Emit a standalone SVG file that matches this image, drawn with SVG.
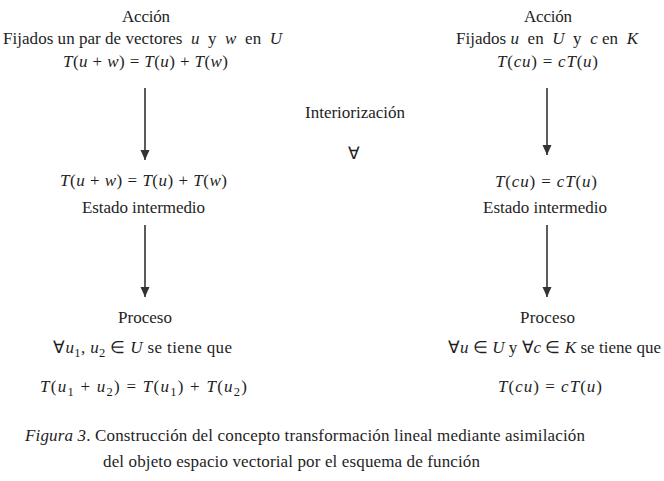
<svg xmlns="http://www.w3.org/2000/svg" width="664" height="481" viewBox="0 0 664 481">
<defs>
<style>
text{font-family:'Liberation Serif','Times New Roman',serif;font-size:17px;fill:#1e1e1e;white-space:pre;}
.i{font-style:italic;}
.sub{font-size:12.5px;}
.arrow{stroke:#333;stroke-width:1.6;fill:none;}
</style>
<marker id="ah" viewBox="0 0 10 10" refX="10" refY="5" markerWidth="10" markerHeight="10" markerUnits="userSpaceOnUse" orient="auto">
<path d="M0,0.5 L10,5 L0,9.5 Z" fill="#333"/>
</marker>
</defs>
<rect width="664" height="481" fill="#fff"/>

<g id="left-accion">
<text x="122" y="22" textLength="48" lengthAdjust="spacing">Acción</text>
<text x="3" y="44" textLength="279" lengthAdjust="spacing">Fijados un par de vectores  <tspan class="i">u</tspan>  y  <tspan class="i">w</tspan>  en  <tspan class="i">U</tspan></text>
<text x="63" y="67" textLength="165" lengthAdjust="spacing"><tspan class="i">T</tspan>(<tspan class="i">u</tspan> + <tspan class="i">w</tspan>) = <tspan class="i">T</tspan>(<tspan class="i">u</tspan>) + <tspan class="i">T</tspan>(<tspan class="i">w</tspan>)</text>
</g>

<g id="left-intermedio">
<text x="60" y="186" textLength="167" lengthAdjust="spacing"><tspan class="i">T</tspan>(<tspan class="i">u</tspan> + <tspan class="i">w</tspan>) = <tspan class="i">T</tspan>(<tspan class="i">u</tspan>) + <tspan class="i">T</tspan>(<tspan class="i">w</tspan>)</text>
<text x="82" y="213" textLength="123" lengthAdjust="spacing">Estado intermedio</text>
</g>

<g id="left-proceso">
<text x="118" y="323" textLength="54" lengthAdjust="spacing">Proceso</text>
<text x="53" y="353" textLength="179" lengthAdjust="spacing">∀<tspan class="i">u</tspan><tspan class="sub" dy="4">1</tspan><tspan dy="-4">, </tspan><tspan class="i">u</tspan><tspan class="sub" dy="4">2</tspan><tspan dy="-4"> ∈ </tspan><tspan class="i">U</tspan> se tiene que</text>
<text x="40" y="392" textLength="207" lengthAdjust="spacing"><tspan class="i">T</tspan>(<tspan class="i">u</tspan><tspan class="sub" dy="4">1</tspan><tspan dy="-4"> + </tspan><tspan class="i">u</tspan><tspan class="sub" dy="4">2</tspan><tspan dy="-4">) = </tspan><tspan class="i">T</tspan>(<tspan class="i">u</tspan><tspan class="sub" dy="4">1</tspan><tspan dy="-4">) + </tspan><tspan class="i">T</tspan>(<tspan class="i">u</tspan><tspan class="sub" dy="4">2</tspan><tspan dy="-4">)</tspan></text>
</g>

<g id="interiorizacion">
<text x="305" y="118" textLength="100" lengthAdjust="spacing">Interiorización</text>
<text x="348" y="159">∀</text>
</g>

<g id="right-accion">
<text x="524" y="22" textLength="48" lengthAdjust="spacing">Acción</text>
<text x="456" y="44" textLength="182" lengthAdjust="spacing">Fijados <tspan class="i">u</tspan>  en  <tspan class="i">U</tspan>  y  <tspan class="i">c</tspan> en  <tspan class="i">K</tspan></text>
<text x="497" y="67" textLength="101" lengthAdjust="spacing"><tspan class="i">T</tspan>(<tspan class="i">cu</tspan>) = <tspan class="i">cT</tspan>(<tspan class="i">u</tspan>)</text>
</g>

<g id="right-intermedio">
<text x="495" y="187" textLength="102" lengthAdjust="spacing"><tspan class="i">T</tspan>(<tspan class="i">cu</tspan>) = <tspan class="i">cT</tspan>(<tspan class="i">u</tspan>)</text>
<text x="483" y="213" textLength="124" lengthAdjust="spacing">Estado intermedio</text>
</g>

<g id="right-proceso">
<text x="520" y="323" textLength="55" lengthAdjust="spacing">Proceso</text>
<text x="448" y="353" textLength="213" lengthAdjust="spacing">∀<tspan class="i">u</tspan> ∈ <tspan class="i">U</tspan> y ∀<tspan class="i">c</tspan> ∈ <tspan class="i">K</tspan> se tiene que</text>
<text x="498" y="392" textLength="104" lengthAdjust="spacing"><tspan class="i">T</tspan>(<tspan class="i">cu</tspan>) = <tspan class="i">cT</tspan>(<tspan class="i">u</tspan>)</text>
</g>

<g id="connectors">
<line class="arrow" x1="145" y1="88" x2="145" y2="160" marker-end="url(#ah)"/>
<line class="arrow" x1="145" y1="225" x2="145" y2="297" marker-end="url(#ah)"/>
<line class="arrow" x1="547" y1="88" x2="547" y2="155" marker-end="url(#ah)"/>
<line class="arrow" x1="547" y1="225" x2="547" y2="297" marker-end="url(#ah)"/>
</g>

<g id="caption">
<text x="25" y="441" textLength="560" lengthAdjust="spacing"><tspan class="i">Figura 3</tspan>. Construcción del concepto transformación lineal mediante asimilación</text>
<text x="103" y="467" textLength="377" lengthAdjust="spacing">del objeto espacio vectorial por el esquema de función</text>
</g>
</svg>
